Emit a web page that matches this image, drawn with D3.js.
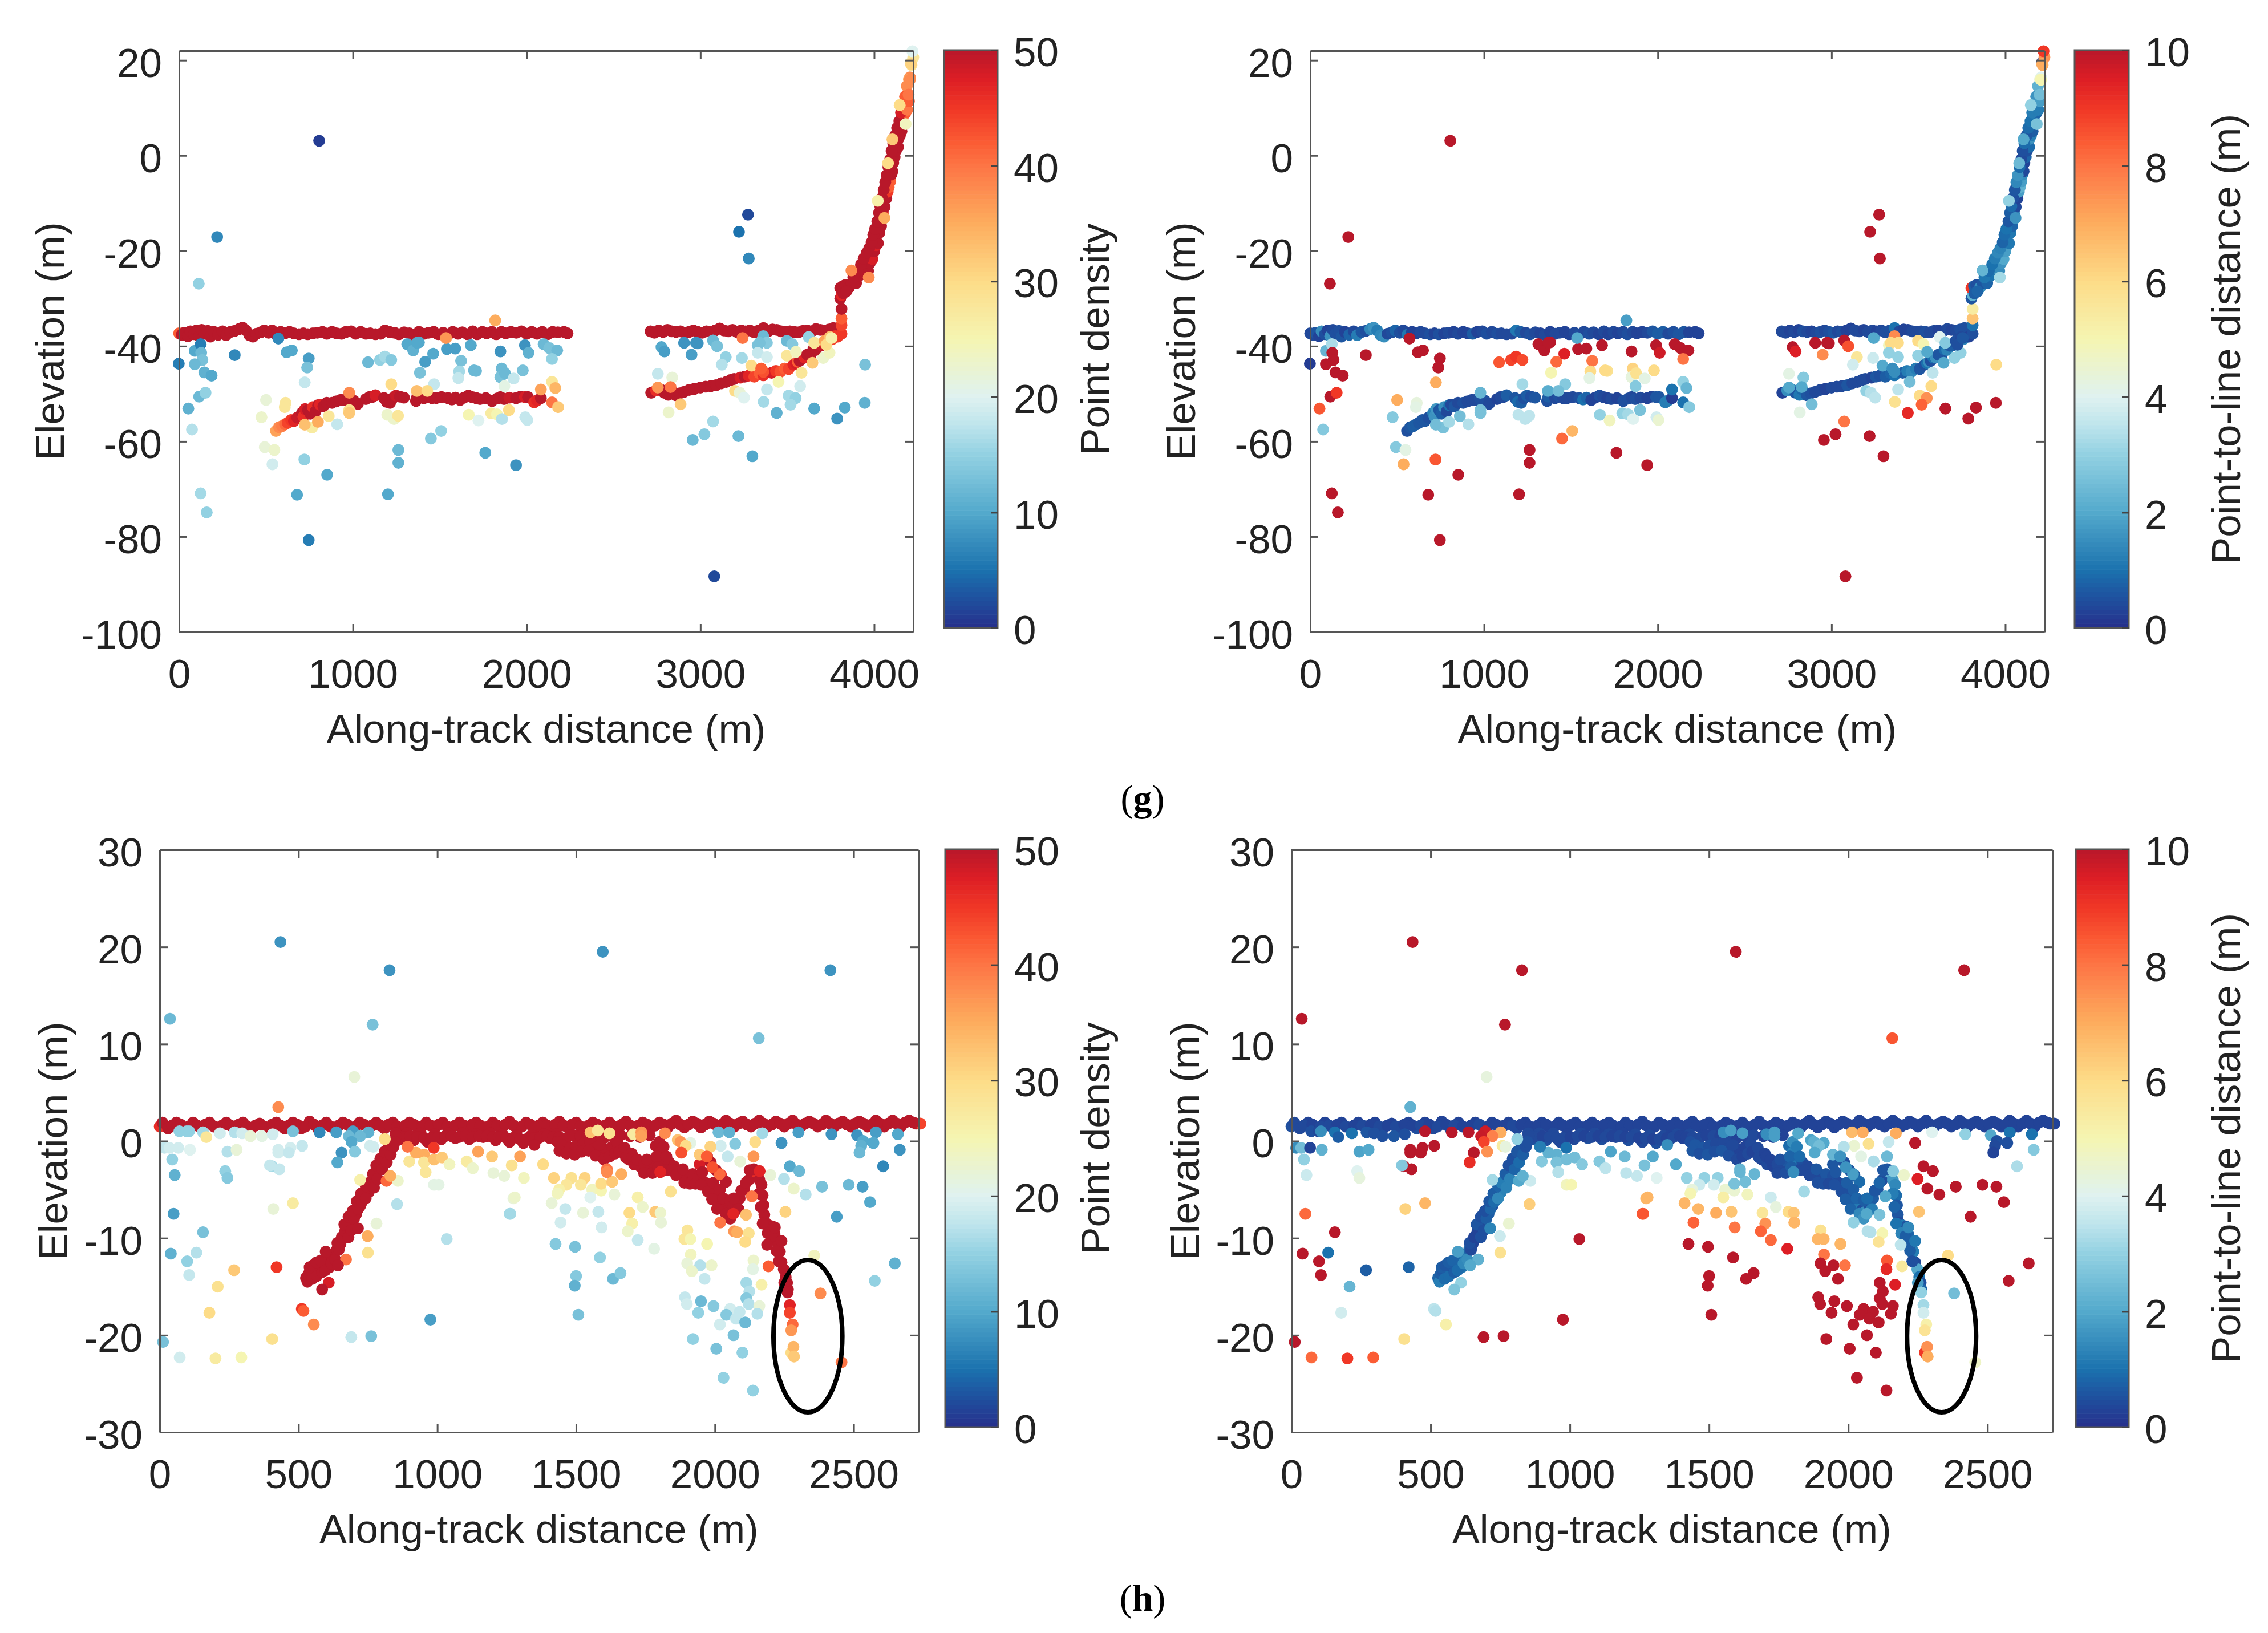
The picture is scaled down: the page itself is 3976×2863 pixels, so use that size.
<!DOCTYPE html>
<html>
<head>
<meta charset="utf-8">
<script src="https://cdn.jsdelivr.net/npm/d3@7"></script>
<style>
body { margin: 0; background: #fff; }
text { font-family: "Liberation Sans", Arial, sans-serif; fill: #222; }
</style>
</head>
<body>
<svg width="3976" height="2863"></svg>
<script>
// each point: [distance, elevation, point density, point-to-line distance]
var gWater = [[0,-37.3,42,.4],[15,-37.6,50,.4],[30,-37.2,50,.6],[50,-37.9,50,.3],[65,-36.9,50,1.5],[85,-37.5,50,.5],[100,-36.7,50,.3],[115,-37.9,50,1.6],[130,-36.6,50,.4],[145,-37.4,50,.5],[165,-36.8,50,.5],[180,-38,50,.6],[200,-37,50,.3],[225,-37.6,50,.8],[250,-36.9,50,.4],[270,-37.7,50,1.2],[295,-37,50,.6],[320,-36.8,50,.5],[345,-36.4,50,1.4],[365,-36.1,50,1.6],[385,-36.7,50,1.2],[405,-37.7,50,1.4],[425,-38,50,1.5],[445,-37.4,50,.4],[470,-37.1,50,.5],[490,-36.7,50,.8],[515,-37.2,50,.5],[535,-36.7,50,.4],[560,-37.6,50,1.1],[585,-37,50,.3],[610,-37.3,50,.3],[635,-37,50,.4],[660,-37.3,50,.4],[690,-37.5,50,.5],[715,-37.3,50,.3],[740,-37.5,50,.5],[770,-37.3,50,.3],[795,-37.2,50,.4],[825,-37,50,.3],[850,-37.4,50,.4],[880,-37,50,.3],[905,-37.3,50,.3],[935,-37.4,50,.7],[960,-37,50,.3],[990,-36.9,50,.4],[1015,-37.4,50,.5],[1045,-37,50,.4],[1075,-37.4,50,.5],[1100,-37.3,50,.4],[1130,-37.5,50,.4],[1160,-37.4,50,.4],[1185,-36.7,50,1.1],[1210,-37,50,.7],[1240,-37.2,50,.4],[1265,-37.5,50,.5],[1295,-37.1,50,.4],[1325,-37.3,50,.3],[1350,-37.6,50,.4],[1380,-37,50,.3],[1410,-37.4,50,.4],[1435,-37.2,50,.4],[1465,-37,50,.3],[1490,-37.5,50,.3],[1520,-37.2,50,.4],[1550,-37.5,50,.5],[1575,-37,50,.4],[1605,-37.4,50,.5],[1630,-37.1,50,.4],[1660,-37.5,50,.3],[1690,-36.9,50,.4],[1715,-37.5,50,.3],[1745,-37,50,.4],[1770,-37.3,50,.3],[1800,-37,50,.4],[1825,-37.5,50,.5],[1855,-37,50,.4],[1880,-37.3,50,.3],[1910,-37,50,.3],[1940,-37.2,50,.4],[1970,-36.9,50,.6],[2000,-37.4,50,.7],[2030,-37,50,.7],[2060,-37.4,50,.4],[2090,-37,50,.5],[2120,-37.5,50,.6],[2150,-37,50,.6],[2180,-37.1,50,.3],[2215,-37,50,.3],[2235,-37.3,50,.3]];
var gWaterRight = [[2713,-36.9,50,.4],[2735,-37.2,50,.4],[2760,-36.7,50,.3],[2785,-37,50,.4],[2810,-36.6,50,.3],[2835,-36.9,50,.5],[2860,-37,50,.4],[2885,-36.9,50,.3],[2910,-37.2,50,.4],[2935,-37,50,.5],[2960,-36.7,50,.4],[2985,-37,50,.5],[3010,-37.2,50,.6],[3035,-36.9,50,.4],[3060,-37,50,.5],[3085,-36.7,50,.3],[3111,-36.3,50,.3],[3135,-36.7,50,.4],[3160,-36.9,50,.4],[3185,-36.6,50,.3],[3210,-37,50,.4],[3235,-36.7,50,.4],[3260,-36.9,50,.3],[3285,-36.7,50,.4],[3310,-37.1,50,.5],[3335,-36.7,50,.5],[3363,-36.2,50,1],[3390,-36.9,50,.4],[3415,-36.5,50,.3],[3440,-36.6,50,.3],[3465,-36.9,50,.4],[3490,-37,50,.4],[3515,-36.9,50,.4],[3540,-37,50,.5],[3565,-37.1,50,.4],[3590,-36.8,50,.4],[3615,-36.7,50,.3],[3640,-36.9,50,.3],[3665,-36.4,50,.4],[3690,-36.6,50,.3],[3715,-36.7,50,.4],[3740,-36.5,50,.5],[3765,-36.2,50,.5]];
var gBottom = [[557,-57.8,36,.5],[575,-57,38,.6],[592,-56.8,39,.7],[610,-56.4,41,.7],[625,-56.1,44,.6],[645,-55.5,45,.6],[661,-55.7,47,.6],[680,-55,49,.5],[707,-54,50,1.3],[715,-54.8,46,1.6],[725,-53.2,48,1.7],[742,-53.4,50,.6],[755,-54.2,50,.7],[770,-52.8,46,1.5],[785,-53.7,50,.4],[800,-52.4,50,1],[811,-52.3,47,.4],[830,-52.6,50,.6],[850,-51.9,50,.4],[880,-51.9,50,.5],[905,-51.6,50,.4],[930,-51.3,50,.4],[949,-51.3,50,.4],[975,-50.9,50,.5],[990,-51.7,50,.5],[1006,-51.5,50,.5],[1029,-52.1,50,.4],[1075,-51.1,50,.3],[1095,-50.7,50,.4],[1110,-50.7,50,.4],[1130,-50.3,48,.7],[1179,-50.9,50,.6],[1195,-51.7,50,.9],[1214,-51.9,50,.7],[1230,-50.9,50,.5],[1248,-50.4,49,.7],[1270,-50.6,50,.5],[1294,-50.8,50,.6],[1363,-51.5,50,.5],[1370,-50.6,50,.7],[1409,-50.9,50,.4],[1430,-50.5,50,.5],[1455,-50.9,50,.4],[1478,-50.9,50,.4],[1510,-50.7,50,.4],[1548,-50.9,50,.5],[1570,-51.2,50,1],[1590,-50.8,50,.8],[1617,-51.3,50,.3],[1640,-50.8,50,.3],[1665,-50.4,50,.5],[1686,-50.7,50,.4],[1710,-50.9,50,.3],[1732,-51.1,50,.4],[1765,-50.9,50,.3],[1801,-51.5,50,.5],[1830,-51,50,.5],[1850,-50.7,50,.4],[1870,-51.1,50,.5],[1900,-50.8,49,.4],[1939,-50.9,50,.3],[1965,-50.6,50,.3],[1990,-50.7,48,.6],[2008,-50.7,50,.6],[2043,-51.8,46,1.2],[2060,-51.4,47,1.2],[2082,-50.9,50,.2]];
var gBottomRight = [[2717,-49.8,50,.3],[2745,-49.3,46,1.5],[2775,-49.2,50,1.3],[2792,-49.8,50,.6],[2815,-50.2,50,1.1],[2830,-49.1,50,.9],[2859,-50.3,50,.6],[2880,-49.9,50,.5],[2905,-49.6,50,.4],[2935,-49.2,50,.4],[2964,-49,50,.3],[3000,-48.7,50,.4],[3030,-48.5,50,.4],[3060,-48.4,50,.4],[3090,-48.2,50,.6],[3120,-47.8,50,.4],[3150,-47.5,50,.4],[3175,-47.1,50,.4],[3194,-46.9,50,.4],[3230,-46.6,48,.3],[3255,-46.4,50,.6],[3278,-46.2,47,.5],[3310,-46.4,44,.7],[3340,-45.7,42,.8],[3362,-46.1,46,1],[3410,-45.6,48,.7],[3435,-45.2,45,1.2],[3460,-45.4,43,1.4],[3485,-44.7,42,1.2],[3508,-44.8,44,.6],[3535,-43.9,47,.5],[3550,-43.6,48,1],[3560,-43.3,42,1.5],[3571,-43.1,50,.5],[3585,-42.4,50,1],[3600,-42.4,47,1.6],[3615,-41.8,50,.6],[3634,-41.9,50,.6],[3650,-40.7,50,.9],[3665,-40.8,50,1.3],[3680,-39.9,50,.6],[3697,-39.8,49,.7],[3715,-39.2,46,.6],[3730,-39.1,44,.8],[3745,-38.7,44,.7],[3760,-38.5,44,1.4],[3775,-37.9,45,.5],[3790,-38,45,.3],[3812,-37.4,45,.5]];
var gSlope = [[3812,-35.6,44,1],[3812,-34.2,42,6.5],[3812,-32.2,50,5.4],[3805,-30,50,.6],[3812,-29.3,47,2.2],[3805,-27.8,50,9],[3820,-27.4,50,.7],[3833,-27.2,50,.5],[3855,-27.7,50,1.5],[3870,-26.8,50,.6],[3896,-26.8,50,.8],[3915,-25.2,50,1],[3932,-24,50,1.1],[3948,-23.4,50,.5],[3965,-24.2,50,1.5],[3975,-22.6,50,1.6],[3990,-21.7,48,2],[4000,-20.1,50,1.8],[4012,-18.8,48,1.8],[4022,-18.4,50,1.1],[4030,-16.2,50,1.1],[4040,-14.8,50,.8],[4053,-12.5,47,1.3],[4060,-10.8,50,.4],[4070,-9,50,.3],[4078,-7.6,45,1.8],[4084,-6.6,42,2.2],[4093,-5.4,42,1.8],[4098,-4,50,1.5],[4105,-3.3,50,.4],[4110,-1.5,50,.3],[4118,-.3,50,.8],[4125,1,50,.5],[4137,1.8,50,.9],[4140,3.5,50,1.6],[4148,4.2,50,1.2],[4157,5.1,50,.7],[4165,7,48,1.3],[4170,8.5,42,1.8],[4179,8.9,42,.8],[4183,11.2,40,1.7],[4195,12.7,40,1.9],[4206,16.4,38,4],[4200,16,36,4.5],[4210,19.4,27,.3],[4215,19,28,7]];
var gSlopeWide = [[3822,-28.9,50,.7],[3840,-28.5,50,.8],[3880,-25.6,50,1.1],[3905,-24.2,50,.9],[3925,-22.8,50,1],[3940,-21.6,50,1.2],[3958,-20.4,50,1.4],[3972,-19.4,50,1.3],[3985,-18.2,50,.8],[3995,-16.6,50,.9],[4006,-15.4,50,1],[4018,-13.8,50,.6],[4028,-12,50,.7],[4035,-10.6,50,.9],[4045,-8.9,50,.5],[4055,-7.2,50,.6],[4064,-5.6,50,1.4],[4072,-4.1,50,1.6],[4082,-2.4,50,.9],[4092,-.8,50,.4],[4100,1,50,.5],[4110,2.6,50,.9],[4122,4.2,50,.6],[4132,5.8,50,.9],[4145,7.2,50,1],[4155,9,48,1.2],[4166,10.4,44,1.4],[4178,12.4,42,1.6],[4190,9.6,40,1.2],[4200,11.4,42,1.8],[4188,14.6,38,2.2]];
var gScatter = [[806,3.1,1,10],[219,-17.1,7,10],[113,-26.9,15,10],[-2,-43.7,6,.2],[90,-41,10,2.3],[124,-39.6,6,3.3],[127,-41.4,12,10],[134,-42.9,13,10],[90,-43.8,12,10],[145,-45.5,11,10],[187,-46.2,10,10],[320,-41.9,7,10],[115,-50.6,12,10],[152,-49.8,15,9],[53,-53.1,11,8.5],[74,-57.5,17,2.8],[124,-70.9,16,10],[159,-74.9,15,10],[571,-38.4,7,10],[619,-41.3,10,10],[649,-40.9,10,10],[746,-42.6,9,10],[737,-44.5,13,10],[723,-47.6,18,7],[500,-51.3,22,7],[613,-51.9,28,4.3],[608,-52.8,28,4.2],[474,-54.9,23,2.8],[493,-61.2,22,2.8],[548,-61.8,23,4.2],[537,-64.8,19,7],[721,-63.8,15,8.5],[852,-67,10,10],[679,-71.2,10,10],[746,-80.7,6,10],[910,-56.4,18,3.4],[861,-54.7,28,2.5],[765,-57.1,27,2.6],[723,-56.5,33,2.5],[799,-55.9,35,3.2],[979,-49.8,38,2.3],[979,-53.4,29,2.6],[979,-54,32,2.6],[1087,-43.4,12,8.5],[1156,-42.9,15,8.8],[1184,-42.2,16,9],[1221,-42.9,14,8.7],[1221,-48,30,3.2],[1198,-54.4,23,3.5],[1237,-55.3,23,3.5],[1260,-54.6,28,3.5],[1262,-61.8,12,10],[1262,-64.5,11,10],[1202,-71.1,10,10],[1313,-39.6,10,10],[1347,-40.9,11,10],[1380,-39.2,10,10],[1370,-39.3,10,10],[1462,-41.6,10,9.5],[1416,-43.3,9,8.2],[1386,-45.6,13,5],[1467,-48,18,2.8],[1368,-49.4,33,2.1],[1428,-49.4,30,2.5],[1541,-40.6,9,10],[1589,-40.5,9,10],[1679,-39.8,10,10],[1536,-38.3,37,2],[1819,-34.6,35,1.8],[1623,-43.1,13,8],[1612,-45.3,16,6],[1607,-46.7,18,4.2],[1709,-45.2,12,5.8],[1697,-45.1,12,6],[1449,-59.4,14,8.2],[1508,-57.8,15,6.8],[1667,-54.4,25,3],[1723,-55.6,20,4.8],[1796,-54.1,27,3],[1829,-54.3,25,3.2],[1858,-55.3,17,4],[1898,-53.4,30,2.6],[1762,-62.4,10,10],[1939,-65,8,10],[1849,-41.1,8,10],[1990,-39.8,8,10],[2011,-41.4,11,9.7],[2098,-39.6,12,10],[2130,-40.4,13,10],[2176,-40.9,12,10],[2146,-42.7,15,8],[1856,-44.7,12,6.2],[1849,-46.5,13,4.3],[1875,-45.7,12,5.8],[1925,-46.8,18,4.2],[1978,-45.1,13,6],[1872,-48.4,21,2.8],[2146,-47.5,28,3],[2165,-48.8,34,2.3],[2082,-49.1,36,1],[2146,-51.8,40,1],[2181,-52.8,32,2.8],[1992,-54.9,18,3.8],[2004,-55.5,18,4.5],
[3274,-12.4,2,10],[3222,-16,5,10],[3278,-21.6,7,10],[3080,-88.3,2,10],[3969,-25.6,38,3.2],[3869,-24.1,38,2.3],[2776,-40.2,10,10],[2793,-41.1,9,9.5],[2906,-39.3,8,10],[2975,-39.3,8,10],[2985,-39.4,8,10],[2949,-41.8,9,7.6],[3073,-38.8,12,10],[3096,-40,13,8.6],[3146,-42.3,15,5.6],[3123,-43.9,17,3.8],[3239,-42.5,16,3.7],[3243,-38.3,40,2],[3293,-44.1,30,2],[2755,-45.8,18,4.2],[2838,-46.6,22,2.8],[2755,-48.7,37,2],[2828,-48.6,40,2],[2817,-53.9,23,4.2],[2886,-52.2,32,2.5],[3199,-49.4,30,3],[3226,-49.8,22,3.4],[3251,-50.8,20,3.5],[3383,-49.1,18,3.5],[3364,-51.7,16,5.8],[3439,-54,11,9.3],[3508,-50.4,16,6],[3548,-50.9,15,7.5],[3519,-52.3,16,8.3],[3574,-48.4,19,6],[3655,-53.1,10,10],[3787,-55.2,8,10],[3831,-52.9,10,10],[3946,-51.9,11,10],[3948,-43.9,13,6],[3073,-55.8,16,8],[3023,-58.5,14,10],[2956,-59.7,12,10],[3219,-58.9,12,10],[3299,-63.1,10,10],
[3330,-39.8,13,4.8],[3362,-37.9,12,7.6],[3383,-39.3,14,6],[3341,-39.3,13,6],[3330,-41.4,18,3],[3383,-42.3,19,3],[3498,-38.9,12,6],[3529,-39.6,14,5],[3498,-42,28,3],[3550,-41.2,24,2],[3623,-38.1,15,4],[3655,-39.3,28,2.8],[3707,-42.5,23,3],[3743,-41.4,24,3],[3645,-43.5,32,2],[3582,-45.6,28,3.5],[3450,-47.5,25,2.5],[3362,-45.4,43,1.5],[3350,-44.7,42,1.5],[3715,-38.9,36,.5],[3745,-38.1,33,.4],[3725,-39.7,30,.5],[3755,-38.3,26,.6],
[4059,-13.1,35,1.6],[4021,-9.5,26,3],[4080,-1.6,30,2.4],[4105,3.4,32,2],[4147,10.6,30,3],[4181,6.6,24,2.6],[4225,20.6,28,7.5],[4212,19.2,31,7],[4220,21.9,20,9],[4205,15.9,38,5],[4198,12.8,40,2.5]];

var hWater = [[0,1.5,46,.5],[10,1.9,50,.4],[30,1.3,50,.4],[60,1.9,50,.3],[90,1.3,50,.5],[120,1.9,50,.3],[150,1.3,50,.4],[180,1.9,50,.3],[210,1.4,50,.4],[240,1.9,50,.3],[270,1.3,50,.5],[300,1.9,50,.3],[330,1.3,50,.4],[360,1.8,50,.3],[390,1.3,50,.4],[420,1.9,50,.3],[450,1.3,50,.5],[480,1.9,50,.3],[510,1.3,50,.4],[540,2,50,.3],[570,1.3,50,.5],[600,1.9,50,.3],[630,1.3,50,.4],[660,1.9,50,.3],[690,1.3,50,.4],[720,1.9,50,.3],[750,1.4,50,.4],[780,1.9,50,.3],[810,1.3,50,.4],[840,1.9,50,.3],[870,1.3,50,.3],[900,1.9,50,.3],[930,1.3,50,.3],[960,1.9,50,.3],[990,1.3,50,.3],[1020,1.9,50,.3],[1050,1.3,50,.3],[1080,1.9,50,.3],[1110,1.3,50,.3],[1140,1.9,50,.3],[1170,1.3,50,.3],[1200,1.9,50,.3],[1230,1.3,50,.3],[1260,2,50,.3],[1290,1.3,50,.3],[1320,1.9,50,.3],[1350,1.3,50,.3],[1380,1.9,50,.3],[1410,1.3,50,.3],[1440,2,50,.3],[1470,1.4,50,.3],[1500,1.9,50,.3],[1530,1.3,50,.3],[1560,1.9,50,.3],[1590,1.3,50,.3],[1620,1.9,50,.3],[1650,1.3,50,.3],[1680,2,50,.3],[1710,1.3,50,.3],[1740,1.9,50,.3],[1770,1.4,50,.3],[1800,1.9,50,.3],[1830,1.4,50,.3],[1860,2.1,50,.3],[1890,1.4,50,.3],[1920,2,50,.3],[1950,1.4,50,.3],[1980,2,50,.3],[2010,1.5,50,.3],[2040,2.1,50,.3],[2070,1.5,50,.3],[2100,2,50,.3],[2130,1.5,50,.3],[2160,2.1,50,.3],[2190,1.5,50,.3],[2220,2,50,.3],[2250,1.5,50,.3],[2280,2.1,50,.3],[2310,1.5,50,.3],[2340,2,50,.3],[2370,1.5,50,.3],[2400,2.1,50,.3],[2430,1.5,50,.3],[2460,2,50,.3],[2490,1.5,50,.3],[2520,2,50,.3],[2550,1.5,50,.3],[2580,2.1,50,.3],[2610,1.5,50,.3],[2640,2.1,50,.3],[2670,1.5,50,.3],[2700,2.1,50,.3],[2725,1.8,50,.3],[2740,1.8,44,.3]];
var hWaterMid = [[45,1.6,50,.4],[75,1.7,50,.3],[105,1.5,50,.4],[135,1.6,50,.4],[165,1.7,50,.3],[195,1.5,50,.4],[225,1.6,50,.3],[255,1.6,50,.4],[285,1.7,50,.3],[315,1.5,50,.4],[345,1.6,50,.3],[375,1.5,50,.4],[405,1.7,50,.3],[435,1.6,50,.3],[465,1.6,50,.4],[495,1.7,50,.3],[525,1.5,50,.4],[555,1.7,50,.3],[585,1.6,50,.4],[615,1.5,50,.3],[645,1.6,50,.3],[675,1.7,50,.4],[705,1.5,50,.3],[735,1.7,50,.3],[765,1.6,50,.3],[795,1.6,50,.4],[825,1.7,50,.3],[855,1.5,50,.3],[885,1.6,50,.3],[915,1.7,50,.3],[945,1.5,50,.3],[975,1.6,50,.3],[1005,1.7,50,.3],[1035,1.5,50,.3],[1065,1.6,50,.3],[1095,1.6,50,.3],[1125,1.7,50,.3],[1155,1.6,50,.3],[1185,1.5,50,.3],[1215,1.6,50,.3],[1245,1.7,50,.3],[1275,1.6,50,.3],[1305,1.5,50,.3],[1335,1.7,50,.3],[1365,1.6,50,.3],[1395,1.6,50,.3],[1425,1.7,50,.3],[1455,1.6,50,.3],[1485,1.7,50,.3],[1515,1.5,50,.3],[1545,1.6,50,.3],[1575,1.7,50,.3],[1605,1.6,50,.3],[1635,1.5,50,.3],[1665,1.7,50,.3],[1695,1.6,50,.3],[1725,1.6,50,.3],[1755,1.7,50,.3],[1785,1.6,50,.3],[1815,1.7,50,.3],[1845,1.8,50,.3],[1875,1.7,50,.3],[1905,1.7,50,.3],[1935,1.8,50,.3],[1965,1.7,50,.3],[1995,1.8,50,.3],[2025,1.7,50,.3],[2055,1.8,50,.3],[2085,1.8,50,.3],[2115,1.7,50,.3],[2145,1.8,50,.3],[2175,1.8,50,.3],[2205,1.7,50,.3],[2235,1.8,50,.3],[2265,1.8,50,.3],[2295,1.7,50,.3],[2325,1.8,50,.3],[2355,1.8,50,.3],[2385,1.7,50,.3],[2415,1.8,50,.3],[2445,1.8,50,.3],[2475,1.7,50,.3],[2505,1.8,50,.3],[2535,1.8,50,.3],[2565,1.7,50,.3],[2595,1.8,50,.3],[2625,1.8,50,.3],[2655,1.8,50,.3],[2685,1.9,50,.3],[2715,1.9,50,.3]];
var hBand = [[850,.8,50,.4],[870,.2,50,.5],[890,.8,50,.4],[915,.1,50,.5],[940,.8,50,.4],[965,-.1,50,.4],[990,.7,50,.3],[1015,.2,50,.4],[1040,.8,50,.4],[1065,.3,50,.5],[1090,.8,50,.4],[1115,.2,50,.5],[1140,.7,50,.4],[1165,.4,50,.4],[1190,.8,50,.3],[1210,.1,50,.5],[1235,.7,50,.4],[1260,-.1,50,.4],[1285,.6,50,.4],[1310,-.2,50,.5],[1335,.5,50,.4],[1360,.2,50,.4],[1385,.7,50,.4],[1405,.3,50,.3],[1430,.7,50,.4],[1450,.2,50,.5],[860,.5,50,.4],[880,.4,50,.4],[902,.5,50,.3],[928,.4,50,.4],[952,.3,50,.4],[978,.3,50,.4],[1002,.4,50,.3],[1028,.5,50,.4],[1052,.5,50,.3],[1078,.4,50,.4],[1102,.5,50,.3],[1128,.4,50,.4],[1152,.5,50,.3],[1178,.5,50,.4],[1200,.4,50,.3],[1222,.4,50,.4],[1248,.3,50,.3],[1272,.3,50,.4],[1298,.2,50,.3],[1322,.2,50,.4],[1348,.3,50,.3],[1372,.4,50,.4],[1395,.5,50,.3],[1418,.4,50,.3],[1440,.4,50,.4],[1465,.3,50,.4],[1490,.6,50,.3],[1515,.5,50,.4],[1540,.5,50,.3],[1570,.4,50,.4],[1600,.3,50,.3],[1630,.5,50,.3],[1660,.6,50,.4],[1695,.5,50,.3],[1730,.4,50,.4],[1765,.6,50,.3]];
var hSlope = [[527,-14.1,50,.8],[532,-14.5,50,1.2],[536,-13.7,50,.7],[545,-13.5,50,.6],[550,-14.2,50,.9],[558,-13.1,50,.5],[566,-13.9,50,.9],[575,-12.9,50,.5],[585,-13.5,50,.7],[592,-12.6,50,.6],[604,-12.5,50,1],[612,-13,50,1],[620,-11.9,50,.9],[628,-11.9,50,1.3],[638,-11.2,50,.8],[651,-10.6,50,.3],[663,-10,50,.3],[675,-9.4,50,.4],[684,-8.7,50,.5],[693,-8.2,50,.4],[708,-7.5,50,.7],[722,-6.7,50,.5],[735,-5.9,50,1.2],[752,-5.3,50,1.3],[763,-4.4,50,1.1],[775,-3.8,50,.8],[785,-3.1,50,.4],[793,-2.6,50,.4],[805,-2,50,.7],[817,-1.4,50,.7],[828,-.7,50,.6],[840,-.1,50,.4],[852,.5,50,.4]];
var hSlopeWide = [[540,-13,50,.7],[552,-12.8,50,.6],[565,-12.5,50,.7],[580,-12.3,50,.8],[597,-13.3,50,.9],[618,-12.6,50,1.4],[632,-12.2,50,1.5],[645,-11.2,50,.4],[640,-10.5,50,.5],[656,-9.9,50,.3],[668,-9.3,50,.3],[680,-9.9,50,.5],[665,-8.6,50,.6],[690,-9.2,50,.5],[680,-7.8,50,.5],[700,-8,50,.7],[695,-7.2,50,.5],[715,-7,50,.8],[710,-6.2,50,.6],[728,-6.3,50,.9],[725,-5.4,50,.7],[742,-5.9,50,1.4],[742,-4.6,50,.8],[755,-4.3,50,1.2],[768,-3.4,50,.7],[772,-4.8,50,1.3],[785,-3.9,50,1.3],[780,-2.5,50,.5],[795,-1.8,50,.5],[802,-2.9,50,.8],[810,-1.1,50,.6],[818,-2.2,50,.9],[825,-.3,50,.6],[832,-1.4,50,.7],[842,-.6,50,.5],[848,-.1,50,.5]];
var hBottom = [[1433,-.1,50,.5],[1450,-.4,50,.6],[1479,-.7,50,.6],[1500,-.5,50,.5],[1525,-.3,50,.4],[1551,-.1,50,.4],[1565,-.8,50,.4],[1591,-1.4,50,.4],[1610,-.9,50,.3],[1630,-.6,50,.3],[1650,-.3,50,.4],[1668,-1.2,50,.3],[1690,-1.9,50,.3],[1709,-2.4,50,.4],[1730,-2.6,50,.3],[1761,-3,50,.4],[1775,-2,50,.6],[1787,-.5,50,.9],[1800,-.1,50,1.5],[1800,-1.2,50,1.3],[1808,-2.1,50,.6],[1814,-1.8,50,1.1],[1835,-2.2,50,.5],[1853,-2.6,50,.4],[1875,-3.3,50,.5],[1899,-3.8,50,.4],[1920,-3.4,50,.6],[1945,-3.6,50,.5],[1965,-4.3,50,.4],[1984,-4.9,50,.5],[2000,-5.6,50,.5],[2012,-6,50,.6],[2023,-6.3,50,.7],[2035,-7,50,1.2],[2050,-7.1,50,.5],[2062,-7.3,50,1.6],[2075,-6.7,50,.5],[2089,-5.9,50,.7],[2105,-5,50,.6],[2122,-4,50,.5],[2135,-3.5,50,.5],[2148,-3.2,46,2.2],[2160,-4,50,1.7],[2168,-4.5,50,1.4],[2172,-5.6,50,.9],[2175,-6.6,50,.6],[2178,-7.6,50,.6],[2182,-8.4,50,.4],[2195,-8.7,50,1.2],[2207,-8.8,50,.6],[2215,-9.6,50,.8],[2225,-10.4,50,.7],[2234,-11.4,50,1.2],[2240,-12.5,50,.4],[2248,-13.2,50,2],[2255,-14,50,1],[2260,-14.6,50,.5],[2263,-15.3,50,.8],[1350,-.4,50,1.5],[1945,-2.4,48,.6],[1972,-1.6,50,.5],[1985,-2.2,50,.5],[2004,-3,50,.6],[2022,-3.5,47,.7],[2040,-4.2,50,.9]];
var hBottomWide = [[1440,-1,50,.6],[1465,-1.3,50,.5],[1495,-1.4,50,.6],[1520,-1.1,50,.5],[1545,-1,50,.6],[1570,-1.5,50,.5],[1585,-.4,50,.4],[1600,-1.9,50,.4],[1620,-1.6,50,.3],[1640,-1.3,50,.4],[1655,-1.1,50,.3],[1675,-.7,50,.4],[1680,-1.7,50,.4],[1700,-1.3,50,.3],[1705,-1.6,50,.3],[1720,-1.9,50,.3],[1745,-2.4,50,.4],[1745,-3.3,50,.4],[1755,-1.9,50,.5],[1775,-3.3,50,.5],[1790,-1.6,50,.8],[1795,-2.7,50,.7],[1815,-.6,50,1.2],[1825,-1.6,50,.9],[1825,-3,50,.4],[1845,-3,50,.4],[1860,-3.5,50,.4],[1885,-2.9,50,.6],[1890,-4.3,50,.5],[1910,-4.4,50,.5],[1930,-4.4,50,.4],[1950,-4.5,50,.5],[1955,-3.2,50,.6],[1975,-5.2,50,.5],[1995,-4.3,50,.7],[1990,-6,50,.7],[2008,-7,50,.8],[2018,-5,50,.7],[2030,-5.9,50,.8],[2040,-7.5,50,1.4],[2055,-6.1,50,.7],[2055,-8,50,1.6],[2068,-5.9,50,.9],[2085,-7,50,1.2],[2095,-5.1,50,.6],[2112,-4.3,50,.8],[2125,-3,50,.6],[2140,-2.9,50,.6],[2160,-5.4,50,1.2],[2165,-6.8,50,.8],[2172,-8.5,50,1],[2190,-9.5,50,1.3],[2205,-9.8,50,.7],[2216,-8.9,50,1.4],[2222,-11.3,50,.7],[2230,-12.4,50,.5],[2240,-10.3,50,1.1],[2250,-14.6,50,1.8]];
var hScatter = [[37,12.6,12,10],[435,20.5,8,10],[828,17.6,8,10],[767,12,13,10],[701,6.6,22,4.3],[427,3.5,38,2.2],[1596,19.5,8,10],[2416,17.6,8,10],[2158,10.6,13,8.5],
[71,1,15,.5],[97,1,15,.4],[106,1,15,1.5],[156,.9,16,1],[168,.4,28,.7],[217,.8,19,1],[270,.9,17,.6],[297,.8,19,.5],[327,.5,22,.5],[368,.5,21,.6],[407,.7,19,.5],[480,1,13,10],[576,.9,7,10],[636,.9,9,10],[696,1,9,9.7],[752,.9,11,7],[722,.5,12,7.8],[681,.5,12,9.8],[691,-.1,10,8.8],[811,.2,30,3],
[17,-.7,18,1.5],[35,-.7,19,2.5],[67,-.7,19,.3],[109,-.9,20,2.2],[244,-1.1,17,1.9],[277,-.9,22,2],[427,-.9,19,10],[427,-1.2,19,10],[471,-.7,19,10],[465,-1.2,18,10],[513,-.5,18,10],[655,-1.2,8,10],[640,-2.2,10,9.2],[703,-1.1,14,7.5],[758,-.5,19,5.4],[769,-.6,19,4.3],
[45,-1.9,15,3],[54,-3.5,11,3.7],[50,-7.5,9,8.2],[156,-9.4,13,10],[40,-11.6,11,10],[132,-11.5,17,1],[99,-12.4,15,10],[106,-13.8,18,10],[236,-3.1,15,4],[244,-3.8,14,4.3],[404,-2.6,16,10],[431,-2.9,18,10],[397,-2.5,18,2.8],[409,-7,22,6.2],[480,-6.4,27,6.8],[268,-13.3,32,.7],[209,-15,29,2.3],[179,-17.7,30,3.8],[421,-13,45,.8],[405,-20.4,29,5.8],[12,-20.7,13,10],[72,-22.3,19,8.2],[201,-22.4,27,9],[294,-22.3,25,8.4],[512,-17.3,45,3.5],[518,-17.5,42,3.4],[555,-18.9,38,5.2],[690,-20.2,18,10],[762,-20.1,13,10],[975,-18.4,9,10],[1034,-10.1,17,10],
[781,-8.5,22,4.5],[749,-9.8,35,3.7],[750,-11.5,29,5.8],[671,-12.2,40,2.2],[855,-6.5,17,6.3],[722,-4,26,3.2],[858,-4.1,23,3.7],[817,-4.1,41,2],[831,-3.6,35,2.2],[609,-14.6,48,3],[585,-15.3,50,2.7],[598,-11.4,50,1.8],[642,-12.8,50,2],[714,-9,50,1.3],
[899,-2.1,28,2.8],[923,-1.2,35,2.2],[952,-1.4,35,2.2],[952,-2.2,28,2.6],[988,-1.9,33,2.5],[1017,-1.7,32,2.5],[1044,-2.4,24,2.8],[1106,-2.1,27,2.8],[1128,-2.8,23,3.5],[1147,-1.1,36,1.9],[1197,-1.6,32,2.4],[1202,-3.3,22,3.5],[1241,-3.6,22,3.6],[1268,-2.5,29,2.6],[958,-3.2,28,3.4],[988,-4.5,21,4.8],[1005,-4.5,21,5],[1274,-5.9,22,6.8],[1261,-7.5,16,8.5],[893,-.6,40,1.2],[987,-.7,45,1],
[2013,.9,12,6.7],[2052,.9,11,7],[2171,.8,16,7],[2301,.9,9,4],[2420,.7,8,3],[2512,.6,8,2],[2580,.9,9,1],[2659,.7,10,1],[2534,0,10,.5],[2527,-.5,11,.4],[2521,-1.2,12,.3],[2571,-.2,10,.5],[2666,-.9,8,2.8],[2606,-2.6,7,3.3],[2240,-.2,8,10],[2145,-.1,30,3.6],[2073,-.3,14,5.8],[2021,-.5,19,4.5],[1912,-.2,21,2],[1984,-.6,31,3.4],[2046,-1.6,18,4.2],[2139,-1.6,37,2.4],[1945,-1.4,32,2.3],[2091,-2.1,22,3.3],
[2270,-2.6,10,10],[2304,-3.1,12,10],[2249,-3.9,17,9.5],[2200,-3.5,22,4.6],[2284,-4.9,23,10],[2327,-5.5,17,10],[2386,-4.7,13,10],[2482,-4.5,12,10],[2532,-4.7,9,10],[2559,-6.3,10,10],[2439,-7.8,9,10],[2254,-7.3,31,6.5],[2648,-12.6,11,10],[2576,-14.4,15,10],
[1312,-3.8,24,4],[1381,-2.4,30,2],[1298,-1.6,36,2],[1420,-3.8,31,3],[1483,-3.8,29,3],[1531,-3.8,31,3],[1465,-4.5,28,3.7],[1439,-5,26,4.3],[1517,-4.5,28,3.8],[1433,-5.4,24,5],[1558,-5,24,4.5],[1590,-5.1,25,4.5],[1590,-4.4,30,2.6],[1630,-4.2,32,2.5],[1663,-3.4,35,2.3],[1611,-2.9,40,2.3],[1611,-3.2,38,2.3],[1638,-5.5,22,4.8],[1551,-5.8,20,5.3],[1279,-5.8,23,6.8],[1412,-6.4,22,6.8],[1263,-7.5,16,8.5],
[1461,-7,18,6.8],[1525,-7.4,22,7],[1580,-7.3,18,6.5],[1444,-8.4,19,8.3],[1592,-8.9,19,8],[1426,-10.6,14,10],[1496,-10.9,13,10],[1586,-12,15,10],[1500,-13.9,14,10],[1495,-14.9,11,10],[1633,-14.2,12,10],[1660,-13.6,14,10],[1508,-17.9,13,10],
[1722,-5.8,26,3.7],[1740,-6.8,23,4.3],[1692,-7.4,30,5.6],[1785,-7.3,32,6],[1804,-7.4,23,6.5],[1806,-8.4,22,6.8],[1702,-8.5,26,7.5],[1686,-9.3,23,8.3],[1722,-10.2,18,8.2],[1781,-11.1,21,9.5],[1841,-5.2,29,3.2],
[1901,-9.2,28,5.8],[1890,-10.1,28,6.8],[1912,-10.1,25,6.8],[1972,-10.6,25,6.8],[1913,-11.7,24,8],[1900,-12.6,22,10],[1947,-12.8,17,10],[1988,-12.8,23,8],[1917,-13.4,23,10],[1963,-14.2,18,10],
[2139,-12.3,23,8.5],[2137,-13.2,21,9.3],[2113,-14.6,16,10],[2124,-15.5,17,10],[2113,-16.2,14,10],[2122,-16.8,17,10],[2160,-17,22,10],[2168,-14.8,26,9.5],
[1892,-16.1,18,10],[1899,-16.8,19,10],[1950,-16.5,12,10],[1995,-17,14,10],[1940,-17.7,15,10],[2055,-17.3,19,10],[2089,-17.6,18,10],[2041,-17.9,14,10],[2076,-18.3,18,10],[2109,-18.7,12,10],[2153,-17.8,17,10],[2018,-18.9,19,10],[2067,-20,13,10],[1921,-20.4,15,10],[2005,-21.4,13,10],[2099,-21.8,15,10],[2031,-24.4,15,10],[2137,-25.7,15,10],
[2019,-8.4,40,3],[2069,-9.3,37,3.4],[2080,-9.4,35,3.4],[2112,-7.6,33,2.6],[2122,-9.5,29,5],[2109,-10.4,30,5.7],[2133,-5.7,40,2],[2066,-7.5,47,2],[2193,-12.9,42,5.5],[2188,-10.7,50,3.5],
[2358,-11.8,24,6],[2380,-15.7,38,2.5],[2456,-22.8,40,4.7],[2270,-16.9,47,3.2],[2270,-17.7,44,3.8],[2280,-18.9,41,5.2],[2275,-19.5,37,5.7],[2262,-15.6,50,3],[2275,-21.8,30,9],[2283,-21.2,34,7.5],[2285,-22.2,32,7],
[2161,-3.1,47,2.8],[1803,-3.2,47,1.5],[1552,.9,33,1.5],[1578,1.1,28,1.8],[1620,.8,29,1.8],[1706,.7,27,1.5],[1735,.9,37,1.8],[1735,.5,36,1.8],[1820,.8,38,2],[1866,.1,33,1.9],[1876,-.1,37,2.2],[1895,-.5,30,2.5],[1879,-1.2,43,2],[1971,-1.6,42,1.6],[2017,-3.4,41,1.8],[1991,-2.7,43,1.6]];

// RdYlBu style colormap of the colorbars, low to high
var colorStops = [0, .05, .1, .2, .3, .35, .4, .5, .6, .7, .8, .84, .9, .95, 1];
var colorValues = ["#27308c", "#1f4f9e", "#1b72ae", "#53a9cc", "#92d1e2", "#bde4ec", "#dff2f0", "#f5f5b2", "#fddc88", "#fdad5e", "#fd7545", "#fb5c34", "#f03726", "#dd1e25", "#b8182a"];

var gXTicks = [0, 1000, 2000, 3000, 4000];
var gYTicks = [-100, -80, -60, -40, -20, 0, 20];
var hXTicks = [0, 500, 1000, 1500, 2000, 2500];
var hYTicks = [-30, -20, -10, 0, 10, 20, 30];
var densityTicks = [0, 10, 20, 30, 40, 50];
var distanceTicks = [0, 2, 4, 6, 8, 10];

var gPoints = gWater.concat(gWaterRight, gBottom, gBottomRight, gSlope, gSlopeWide, gScatter);
var hPoints = hWater.concat(hWaterMid, hBand, hSlope, hSlopeWide, hBottom, hBottomWide, hScatter);

var svg = d3.select('svg');
var fontSize = 71;
var colormap = d3.scaleLinear().domain(colorStops).range(colorValues);

function drawPanel(opt) {
    var x = d3.scaleLinear().domain(opt.xDomain).range([opt.left, opt.right]);
    var y = d3.scaleLinear().domain(opt.yDomain).range([opt.bottom, opt.top]);
    var g = svg.append('g');

    opt.points.forEach(function (d) {
        g.append('circle')
            .attr('cx', x(d[0]))
            .attr('cy', y(d[1]))
            .attr('r', 10.4)
            .attr('fill', colormap(d[opt.colorIndex] / opt.colorMax));
    });

    if (opt.ellipse) {
        g.append('ellipse')
            .attr('cx', x(opt.ellipse[0]))
            .attr('cy', y(opt.ellipse[1]))
            .attr('rx', x(opt.ellipse[2]) - x(0))
            .attr('ry', y(0) - y(opt.ellipse[3]))
            .attr('fill', 'none')
            .attr('stroke', '#000')
            .attr('stroke-width', 8);
    }

    var plain = function (d) { return String(d); };
    var noText = function () { return ''; };
    var axes = [
        [d3.axisBottom(x).tickValues(opt.xTicks).tickFormat(plain).tickSizeInner(-14).tickSizeOuter(0).tickPadding(48), 0, opt.bottom, '0.71em'],
        [d3.axisLeft(y).tickValues(opt.yTicks).tickFormat(plain).tickSizeInner(-14).tickSizeOuter(0).tickPadding(30), opt.left, 0, '0.4em'],
        [d3.axisTop(x).tickValues(opt.xTicks).tickFormat(noText).tickSizeInner(-14).tickSizeOuter(0), 0, opt.top, '0'],
        [d3.axisRight(y).tickValues(opt.yTicks).tickFormat(noText).tickSizeInner(-14).tickSizeOuter(0), opt.right, 0, '0']
    ];
    axes.forEach(function (a) {
        var ax = svg.append('g')
            .attr('transform', 'translate(' + a[1] + ',' + a[2] + ')')
            .call(a[0]);
        ax.selectAll('path,line').attr('stroke', '#555').attr('stroke-width', 3);
        ax.selectAll('text').style('font-size', fontSize + 'px').attr('fill', '#222').attr('dy', a[3]);
    });

    svg.append('text')
        .attr('x', (opt.left + opt.right) / 2)
        .attr('y', opt.bottom + 194)
        .attr('text-anchor', 'middle')
        .style('font-size', fontSize + 'px')
        .text('Along-track distance (m)');

    svg.append('text')
        .attr('transform', 'translate(' + (opt.left - opt.yLabelOffset) + ',' + (opt.top + opt.bottom) / 2 + ') rotate(-90)')
        .attr('text-anchor', 'middle')
        .style('font-size', fontSize + 'px')
        .text('Elevation (m)');

    // colorbar
    var cy = d3.scaleLinear().domain([0, opt.colorMax]).range([opt.barBottom, opt.barTop]);
    var bands = d3.range(128);
    svg.append('g').selectAll('rect')
        .data(bands)
        .enter()
        .append('rect')
        .attr('x', opt.barLeft)
        .attr('width', opt.barRight - opt.barLeft)
        .attr('y', function (i) { return cy((i + 1) / 128 * opt.colorMax); })
        .attr('height', (opt.barBottom - opt.barTop) / 128 + 0.6)
        .attr('fill', function (i) { return colormap((i + 0.5) / 128); });
    svg.append('rect')
        .attr('x', opt.barLeft)
        .attr('y', opt.barTop)
        .attr('width', opt.barRight - opt.barLeft)
        .attr('height', opt.barBottom - opt.barTop)
        .attr('fill', 'none')
        .attr('stroke', '#555')
        .attr('stroke-width', 3);
    var barAxis = svg.append('g')
        .attr('transform', 'translate(' + opt.barRight + ',0)')
        .call(d3.axisRight(cy).tickValues(opt.barTicks).tickFormat(plain).tickSizeInner(-12).tickSizeOuter(0).tickPadding(28));
    barAxis.select('path').remove();
    barAxis.selectAll('line').attr('stroke', '#444').attr('stroke-width', 3);
    barAxis.selectAll('text').style('font-size', fontSize + 'px').attr('fill', '#222').attr('dy', '0.39em');

    svg.append('text')
        .attr('transform', 'translate(' + (opt.barRight + 195) + ',' + (opt.barTop + opt.barBottom) / 2 + ') rotate(-90)')
        .attr('text-anchor', 'middle')
        .style('font-size', fontSize + 'px')
        .text(opt.barTitle);
}

var gBase = { points: gPoints, xDomain: [0, 4225], yDomain: [-100, 22], xTicks: gXTicks, yTicks: gYTicks, top: 89, bottom: 1108, barTop: 88, barBottom: 1101, yLabelOffset: 202 };
var hBase = { points: hPoints, xDomain: [0, 2733], yDomain: [-30, 30], xTicks: hXTicks, yTicks: hYTicks, top: 1490, bottom: 2511, barTop: 1489, barBottom: 2502, yLabelOffset: 162, ellipse: [2335, -20.1, 124, 7.85] };

drawPanel(Object.assign({}, gBase, { left: 314, right: 1601, barLeft: 1655, barRight: 1749, colorIndex: 2, colorMax: 50, barTicks: densityTicks, barTitle: 'Point density' }));
drawPanel(Object.assign({}, gBase, { left: 2297, right: 3584, barLeft: 3637, barRight: 3732, colorIndex: 3, colorMax: 10, barTicks: distanceTicks, barTitle: 'Point-to-line distance (m)' }));
drawPanel(Object.assign({}, hBase, { left: 280, right: 1610, barLeft: 1657, barRight: 1750, colorIndex: 2, colorMax: 50, barTicks: densityTicks, barTitle: 'Point density' }));
drawPanel(Object.assign({}, hBase, { left: 2264, right: 3598, barLeft: 3639, barRight: 3732, colorIndex: 3, colorMax: 10, barTicks: distanceTicks, barTitle: 'Point-to-line distance (m)' }));

// sub-figure captions
[['g', 1422], ['h', 2824]].forEach(function (c) {
    var t = svg.append('text')
        .attr('x', 2003)
        .attr('y', c[1])
        .attr('text-anchor', 'middle')
        .style('font-size', '66px')
        .style('font-family', '"Liberation Serif", serif')
        .style('fill', '#000');
    t.append('tspan').text('(');
    t.append('tspan').style('font-weight', 'bold').text(c[0]);
    t.append('tspan').text(')');
});
</script>
</body>
</html>
